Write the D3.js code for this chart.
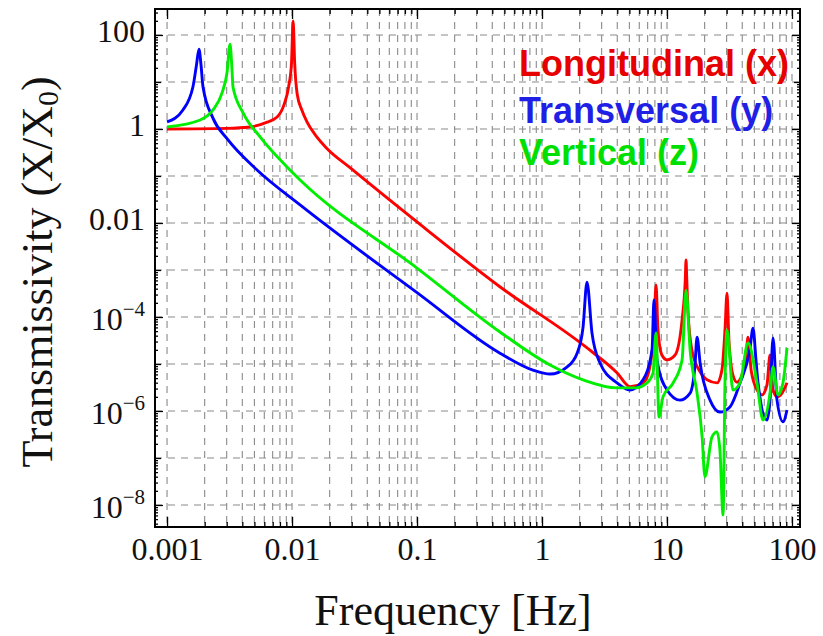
<!DOCTYPE html>
<html>
<head>
<meta charset="utf-8">
<script src="https://cdn.jsdelivr.net/npm/d3@7"></script>
<style>
  body { margin: 0; background: #fff; }
</style>
</head>
<body>
<div id="chart"></div>
<script>
// tick labels
const freqTicks = [0.001, 0.01, 0.1, 1, 10, 100];
const freqTickLabels = ["0.001", "0.01", "0.1", "1", "10", "100"];
const transTicks = [100, 1, 0.01, 1e-4, 1e-6, 1e-8];
const transTickLabels = [["100", ""], ["1", ""], ["0.01", ""], ["10", "−4"], ["10", "−6"], ["10", "−8"]];

const seriesNames = ["Longitudinal (x)", "Transversal (y)", "Vertical (z)"];

// [frequency Hz, transmissivity]
const longitudinal = [
  [0.001, 1.0], [0.003, 1.03], [0.0046, 1.1], [0.0061, 1.35], [0.0076, 1.8], [0.0087, 3.5],
  [0.0094, 8], [0.0099, 25], [0.0102, 200], [0.0105, 25], [0.011, 5.5], [0.012, 2.5],
  [0.0132, 1.4], [0.0155, 0.72], [0.0191, 0.38], [0.0291, 0.15], [0.1, 0.0105], [0.46, 4.4e-4],
  [2.24, 2.3e-5], [3.98, 6.5e-6], [5.06, 3.3e-6], [6.43, 3.96e-6], [7.2, 7.4e-6],
  [7.87, 5.3e-5], [8.17, 4.8e-4], [8.47, 5.3e-5], [9.1, 1.55e-5], [10, 1.22e-5],
  [11.6, 1.55e-5], [13.2, 8.7e-5], [14.0, 6.1e-4], [14.2, 1.63e-3], [14.4, 6.1e-4],
  [14.7, 1.4e-4], [15.8, 2.0e-5], [18.4, 6.8e-6], [20.9, 4.6e-6], [25.1, 3.96e-6],
  [27.5, 7.4e-6], [29.1, 5.3e-5], [30.2, 3.2e-4], [31.3, 3.2e-5], [33.7, 5.8e-6],
  [36.3, 4.1e-6], [39.8, 5.8e-6], [42.9, 1.55e-5], [44.5, 3.7e-5], [47.1, 7.4e-6],
  [52.5, 2.8e-6], [57.5, 2.2e-6], [63.1, 3.6e-6], [66.7, 1.55e-5], [70.5, 2.8e-6],
  [75.9, 2.0e-6], [83.2, 2.4e-6], [91.2, 4.0e-6]
];

const transversal = [
  [0.001, 1.41], [0.00134, 2.54], [0.00161, 7.8], [0.00172, 23], [0.0018, 50],
  [0.00187, 23], [0.00194, 7.8], [0.00233, 1.7], [0.00302, 0.62], [0.00525, 0.134],
  [0.0116, 0.0242], [0.1, 3.3e-4], [0.461, 1.7e-5], [0.847, 7.4e-6], [1.16, 6.1e-6],
  [1.58, 8.6e-6], [1.91, 1.7e-5], [2.13, 6.1e-5], [2.29, 5.5e-4], [2.51, 4.6e-5],
  [2.91, 1.05e-5], [3.98, 3.96e-6], [5.06, 2.8e-6], [6.43, 4.6e-6], [7.59, 2.0e-5],
  [7.87, 2.3e-4], [8.32, 1.22e-5], [10, 2.8e-6], [12.7, 1.7e-6], [15.3, 2.4e-6],
  [16.7, 8.6e-6], [17.4, 3.7e-5], [18.4, 1.05e-5], [22.1, 1.7e-6], [26.5, 9.5e-7],
  [31.9, 1.22e-6], [38.4, 3.96e-6], [46.0, 2.0e-5], [48.8, 5.8e-5], [51.5, 1.22e-5],
  [53.5, 3.96e-6], [63.1, 6.4e-7], [66.7, 1.7e-6], [70.5, 3.6e-5], [75.9, 1.7e-6],
  [84.7, 5.9e-7], [91.2, 1.05e-6]
];

const vertical = [
  [0.001, 1.1], [0.00184, 1.55], [0.00233, 2.54], [0.00275, 5.8], [0.00302, 16],
  [0.00319, 64], [0.00331, 18], [0.00337, 7.8], [0.00406, 2.2], [0.00555, 0.68],
  [0.00912, 0.155], [0.0116, 0.082], [0.1, 1.1e-3], [0.461, 4.8e-5], [1.16, 9.5e-6],
  [2.13, 4.6e-6], [3.98, 3.1e-6], [5.62, 3.1e-6], [6.92, 3.96e-6], [7.73, 6.4e-6],
  [8.17, 4.6e-5], [8.63, 7.4e-7], [9.29, 2.0e-6], [11.2, 3.96e-6], [13.2, 1.22e-5],
  [14.2, 3.7e-4], [15.3, 2.0e-5], [17.4, 2.4e-6], [19.1, 2.8e-7], [20.1, 4.0e-8],
  [22.9, 2.8e-7], [25.1, 3.6e-7], [26.5, 1.5e-7], [28.1, 6.1e-9], [29.1, 3.96e-6],
  [30.2, 5.3e-5], [33.7, 2.8e-6], [38.4, 3.96e-6], [44.5, 2.8e-5], [52.5, 3.96e-6],
  [58.6, 6.4e-7], [66.7, 2.4e-6], [70.5, 8.6e-6], [77.3, 2.2e-6], [84.7, 3.96e-6],
  [91.2, 2.2e-5]
];

const lineColors = ["#ff0000", "#0000ff", "#00ee00"];
const textColors = ["#e60000", "#1f1fe6", "#00e000"];

const width = 823, height = 636;
const plotLeft = 155, plotRight = 800, plotTop = 9, plotBottom = 527;

const svg = d3.select("#chart").append("svg")
    .attr("width", width)
    .attr("height", height)
    .style("background-color", "white");

const x = d3.scaleLog().domain([8.01e-4, 115.9]).range([plotLeft, plotRight]);
const y = d3.scaleLog().domain([3.4e-9, 357]).range([plotBottom, plotTop]);

// minor positions 1..9 per decade
const minorX = [];
for (let e = -3; e <= 2; e++) {
    for (let k = 1; k <= 9; k++) {
        const v = k * Math.pow(10, e);
        if (v <= 115) minorX.push(+v.toPrecision(3));
    }
}
const decadesY = [];
const minorY = [];
for (let e = -9; e <= 2; e++) {
    const dv = +Math.pow(10, e).toPrecision(3);
    if (dv > 3.4e-9 && dv < 357) decadesY.push(dv);
    for (let k = 2; k <= 9; k++) {
        const v = k * Math.pow(10, e);
        if (v > 3.4e-9 && v < 357) minorY.push(v);
    }
}

// dashed grid
const grid = svg.append("g").attr("stroke", "#8a8a8a").attr("stroke-width", 1.1)
    .attr("stroke-dasharray", "7,6").attr("fill", "none");
grid.selectAll(".gx").data(minorX).join("line")
    .attr("x1", d => x(d)).attr("x2", d => x(d))
    .attr("y1", plotTop).attr("y2", plotBottom);
grid.selectAll(".gy").data(decadesY).join("line")
    .attr("y1", d => y(d)).attr("y2", d => y(d))
    .attr("x1", plotLeft).attr("x2", plotRight);

// clip for curves
svg.append("clipPath").attr("id", "clip")
    .append("rect").attr("x", plotLeft).attr("y", plotTop)
    .attr("width", plotRight - plotLeft).attr("height", plotBottom - plotTop);

const lineGen = d3.line()
    .x(d => x(d[0]))
    .y(d => y(d[1]))
    .curve(d3.curveMonotoneX);

[longitudinal, transversal, vertical].forEach((data, i) => {
    svg.append("path")
        .datum(data)
        .attr("clip-path", "url(#clip)")
        .attr("fill", "none")
        .attr("stroke", lineColors[i])
        .attr("stroke-width", 2.9)
        .attr("stroke-linejoin", "round")
        .attr("d", lineGen);
});

// ticks on all four sides
const tickFont = "'Liberation Serif', 'Times New Roman', serif";
const minorXOnly = minorX.filter(d => freqTicks.indexOf(d) < 0);
const midY = decadesY.filter(d => transTicks.indexOf(d) < 0);

const xMajorBottom = svg.append("g").attr("transform", `translate(0,${plotBottom})`)
    .call(d3.axisBottom(x).tickValues(freqTicks).tickSizeInner(-10).tickSizeOuter(0).tickPadding(10)
        .tickFormat((d, i) => freqTickLabels[i]));
svg.append("g").attr("transform", `translate(0,${plotBottom})`)
    .call(d3.axisBottom(x).tickValues(minorXOnly).tickSizeInner(-5).tickSizeOuter(0).tickFormat(""));
svg.append("g").attr("transform", `translate(0,${plotTop})`)
    .call(d3.axisTop(x).tickValues(freqTicks).tickSizeInner(-10).tickSizeOuter(0).tickFormat(""));
svg.append("g").attr("transform", `translate(0,${plotTop})`)
    .call(d3.axisTop(x).tickValues(minorXOnly).tickSizeInner(-5).tickSizeOuter(0).tickFormat(""));

const yMajorLeft = svg.append("g").attr("transform", `translate(${plotLeft},0)`)
    .call(d3.axisLeft(y).tickValues(transTicks).tickSizeInner(-8).tickSizeOuter(0).tickPadding(9)
        .tickFormat((d, i) => transTickLabels[i][0]));
svg.append("g").attr("transform", `translate(${plotLeft},0)`)
    .call(d3.axisLeft(y).tickValues(midY).tickSizeInner(-6).tickSizeOuter(0).tickFormat(""));
svg.append("g").attr("transform", `translate(${plotLeft},0)`)
    .call(d3.axisLeft(y).tickValues(minorY).tickSizeInner(-3).tickSizeOuter(0).tickFormat(""));
svg.append("g").attr("transform", `translate(${plotRight},0)`)
    .call(d3.axisRight(y).tickValues(transTicks).tickSizeInner(-8).tickSizeOuter(0).tickFormat(""));
svg.append("g").attr("transform", `translate(${plotRight},0)`)
    .call(d3.axisRight(y).tickValues(midY).tickSizeInner(-6).tickSizeOuter(0).tickFormat(""));
svg.append("g").attr("transform", `translate(${plotRight},0)`)
    .call(d3.axisRight(y).tickValues(minorY).tickSizeInner(-3).tickSizeOuter(0).tickFormat(""));

svg.selectAll(".domain").remove();
svg.selectAll(".tick line").attr("stroke", "#000").attr("stroke-width", 1.3);

xMajorBottom.selectAll("text")
    .attr("font-family", tickFont).attr("font-size", 32).attr("fill", "#111");

// y labels with superscripts
yMajorLeft.selectAll("text").each(function(d, i) {
    const t = d3.select(this)
        .attr("font-family", tickFont).attr("font-size", 32).attr("fill", "#111")
        .attr("dy", null).attr("y", transTickLabels[i][1] ? 13 : 7)
        .attr("x", -10);
    t.text(null);
    t.append("tspan").text(transTickLabels[i][0]);
    if (transTickLabels[i][1]) {
        t.append("tspan").attr("font-size", 21).attr("dy", -14).text(transTickLabels[i][1]);
    }
});

// frame
svg.append("rect")
    .attr("x", plotLeft).attr("y", plotTop)
    .attr("width", plotRight - plotLeft).attr("height", plotBottom - plotTop)
    .attr("fill", "none").attr("stroke", "#000").attr("stroke-width", 2);

// axis titles
svg.append("text")
    .attr("x", 453).attr("y", 625)
    .attr("text-anchor", "middle")
    .attr("font-family", tickFont).attr("font-size", 44).attr("fill", "#111")
    .text("Frequency [Hz]");

const yTitle = svg.append("text")
    .attr("transform", "translate(52,272) rotate(-90)")
    .attr("text-anchor", "middle")
    .attr("font-family", tickFont).attr("font-size", 44).attr("fill", "#111");
yTitle.append("tspan").text("Transmissivity (X/X");
yTitle.append("tspan").attr("font-size", 30).attr("dy", 6).text("0");
yTitle.append("tspan").attr("dy", -6).text(")");

// legend
const legendY = [76, 123, 165];
svg.selectAll(".legend").data(seriesNames).join("text")
    .attr("class", "legend")
    .attr("x", 519)
    .attr("y", (d, i) => legendY[i])
    .attr("font-family", "'Liberation Sans', Arial, sans-serif")
    .attr("font-weight", "bold")
    .attr("font-size", 36)
    .attr("fill", (d, i) => textColors[i])
    .text(d => d);
</script>
</body>
</html>
